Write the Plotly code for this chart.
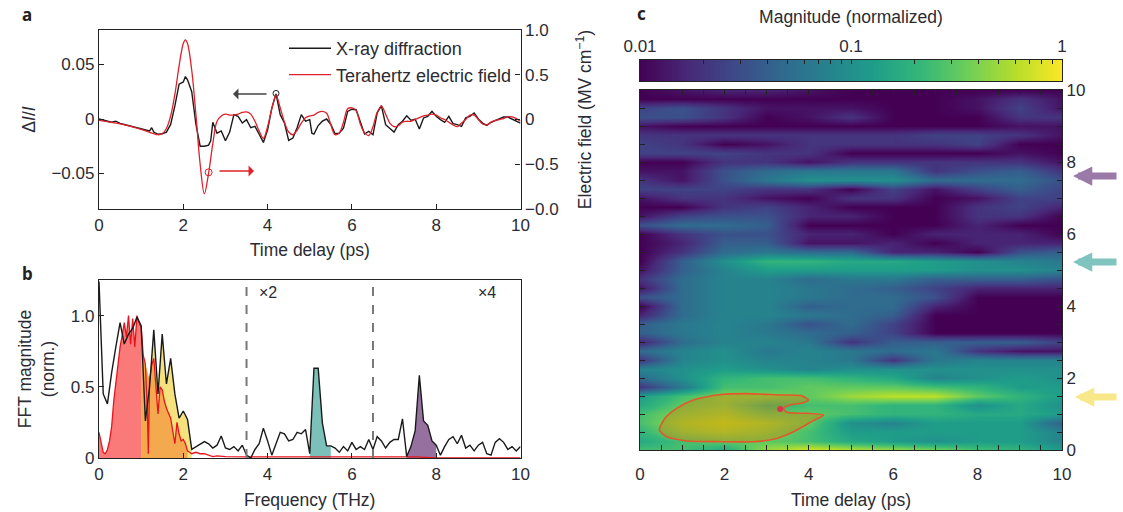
import numpy as np
import plotly.graph_objects as go

W, H = 1123, 512
FONT = "Liberation Sans"
TXT = "#2b2b33"
FS = 17
FT = 17.5

# ---------- panel a ----------
xrd_t = [0,.1,.2,.3,.4,.5,.6,.7,.8,.9,1,1.1,1.2,1.25,1.3,1.4,1.5,1.6,1.7,1.8,1.9,2,2.05,2.1,2.2,2.3,2.4,2.5,2.6,2.65,2.7,2.8,2.9,3,3.1,3.2,3.3,3.4,3.5,3.6,3.7,3.8,3.9,4,4.1,4.2,4.3,4.4,4.5,4.6,4.7,4.8,4.9,5,5.05,5.1,5.2,5.3,5.4,5.5,5.6,5.7,5.8,5.9,6,6.1,6.2,6.3,6.4,6.5,6.6,6.7,6.8,6.9,7,7.1,7.2,7.3,7.4,7.5,7.6,7.7,7.8,7.9,8,8.1,8.2,8.3,8.4,8.5,8.6,8.7,8.8,8.9,9,9.1,9.2,9.3,9.4,9.5,9.6,9.7,9.8,9.9,10]
xrd_v = [0,-.001,-.002,-.003,-.002,-.004,-.005,-.006,-.007,-.008,-.009,-.0105,-.011,-.008,-.012,-.014,-.0135,-.012,-.005,.012,.032,.034,.039,.036,.025,-.005,-.025,-.025,-.024,-.02,-.003,-.013,-.011,-.02,-.012,.004,.0025,-.0037,-.0006,-.008,-.0068,-.014,-.0215,-.01,.01,.023,.004,-.0037,-.0196,-.0175,-.008,.004,-.002,-.0006,-.013,-.0138,-.006,-.002,0,-.005,-.0135,-.013,-.0085,.007,.009,.0085,-.002,-.0138,-.0113,-.0145,.0055,.0123,-.0052,-.0083,-.012,-.0052,-.002,.003,-.0012,0,-.0092,.001,.0025,.007,.0025,-.0006,-.003,.0025,-.0043,-.0052,-.0068,.001,.0025,.0055,0,-.0037,-.0058,-.003,-.0012,.0006,.0018,.0018,0,-.0012,-.0037]
field_t = [0,.5,1,1.4,1.5,1.6,1.7,1.8,1.9,2,2.05,2.1,2.2,2.3,2.4,2.5,2.6,2.7,2.8,2.9,3,3.1,3.2,3.3,3.4,3.5,3.6,3.7,3.8,3.9,4,4.1,4.2,4.3,4.4,4.5,4.6,4.7,4.8,4.9,5,5.1,5.2,5.3,5.4,5.5,5.6,5.7,5.8,5.9,6,6.1,6.2,6.3,6.4,6.5,6.6,6.7,6.8,6.9,7,7.1,7.2,7.3,7.4,7.5,7.6,7.7,7.8,7.9,8,8.1,8.2,8.3,8.4,8.5,8.6,8.7,8.8,8.9,9,9.1,9.2,9.3,9.4,9.5,9.6,9.7,9.8,9.9,10]
field_v = [-.01,-.05,-.11,-.17,-.16,-.1,.04,.28,.6,.85,.89,.85,.55,.05,-.5,-.83,-.6,-.27,-.02,.04,.06,.05,.05,.06,.08,.085,.06,-.02,-.13,-.21,-.08,.12,.27,.13,-.03,-.14,-.17,-.12,-.04,.02,.04,.05,.08,.09,.07,-.06,-.17,-.15,-.03,.12,.13,.1,-.05,-.15,-.18,-.08,.08,.15,.06,-.04,-.08,-.07,-.03,-.02,-.02,0,.02,.04,.05,.06,.05,.02,0,-.03,-.06,-.08,-.04,0,.05,.05,0,-.05,-.06,-.03,-.01,0,.01,.03,.03,.01,-.02]
mark_black = (4.2, .0235)
mark_red = (2.6, -.59)

# ---------- panel b ----------
fft_f = [0,.05,.1,.2,.3,.4,.5,.6,.7,.8,.9,1,1.1,1.2,1.3,1.4,1.5,1.6,1.7,1.8,1.9,2,2.1,2.2,2.3,2.4,2.5,2.6,2.7,2.8,2.9,3,3.1,3.2,3.3,3.4,3.5,3.6,3.7,3.8,3.9,4,4.1,4.2,4.3,4.4,4.5,4.6,4.7,4.8,4.9,5,5.1,5.2,5.3,5.4,5.5,5.6,5.7,5.8,5.9,6,6.1,6.2,6.3,6.4,6.5,6.6,6.7,6.8,6.9,7,7.1,7.2,7.3,7.4,7.5,7.6,7.7,7.8,7.9,8,8.1,8.2,8.3,8.4,8.5,8.6,8.7,8.8,8.9,9,9.1,9.2,9.3,9.4,9.5,9.6,9.7,9.8,9.9,10]
fft_xrd = [1.24,.9,.45,.38,.6,.78,.95,.8,.87,.91,.99,.93,.26,.5,.9,.45,.87,.52,.7,.45,.28,.33,.27,.06,.08,.1,.115,.1,.07,.09,.155,.07,.06,.08,.05,.09,.02,0,.06,.1,.21,.12,.02,.1,.18,.17,.12,.13,.18,.17,.2,.03,.63,.63,.245,.085,.085,.07,.04,.08,.05,.11,.06,.08,.06,.13,.06,.15,.12,.07,.11,.13,.13,.275,.01,.08,.19,.58,.26,.23,.12,.09,.02,.08,.13,.15,.1,.16,.07,.09,.05,.09,.11,.03,.02,.11,.135,.11,.06,.08,.05,.08]
fft_field_f = [0,.05,.1,.15,.2,.25,.3,.35,.4,.45,.5,.55,.6,.65,.7,.75,.8,.85,.9,.95,1,1.05,1.1,1.15,1.17,1.2,1.25,1.3,1.35,1.4,1.45,1.5,1.55,1.6,1.7,1.75,1.8,1.85,1.9,1.95,2,2.05,2.1,2.2,2.3,2.4,2.5,2.6,2.7,2.8,3,3.5,4,5,6,7,7.5,8,9,10]
fft_field = [.18,.12,.04,.03,.06,.12,.22,.4,.52,.68,.78,.86,.95,.85,1,.8,.98,.78,1,.95,.92,.72,.66,.3,.03,.55,.65,.7,.5,.31,.5,.48,.4,.35,.28,.2,.1,.25,.17,.12,.13,.1,.05,.03,.04,.03,.03,.02,.01,.015,.01,.008,.008,.008,.008,.008,.008,0,0,0]
fill_skip = [1.15, 1.17]
band_red = (0, 1.0)
band_orange = (1.0, 2.15)
band_yellow = (1.0, 2.2)
band_teal = (5.0, 5.5)
band_purple = (7.3, 8.0)
divider_f = [3.5, 6.5]

# ---------- panel c: log10 magnitude, tenths above 0.01 ----------
map_t = [0,1,2,3,4,5,6,7,8,9,10]
map_f = [0,.25,.5,.75,1,1.25,1.5,1.75,2,2.25,2.5,2.75,3,3.25,3.5,3.75,4,4.25,4.5,4.75,5,5.25,5.5,5.75,6,6.25,6.5,6.75,7,7.25,7.5,7.75,8,8.25,8.5,8.75,9,9.25,9.5,9.75,10]
map_levels = [
 [14,14,12,17,19,18,17,16,14,13,11],
 [12,14,15,15,14,12,11,10,11,11,9],
 [13,16,17,16,14,11,11,11,11,11,9],
 [14,17,18,17,15,10,9,11,11,11,6],
 [14,16,17,15,15,14,13,13,12,12,11],
 [12,15,16,13,14,14,13,13,10,12,10],
 [11,14,16,16,15,17,18,18,15,13,11],
 [3,8,14,14,15,15,15,14,13,11,11],
 [7,10,13,14,14,13,12,9,10,11,10],
 [9,10,11,10,9,10,10,10,10,10,10],
 [3,9,10,9,9,8,3,8,9,9,9],
 [7,9,10,8,9,8,7,8,3,1,1],
 [2,7,9,9,8,3,6,6,6,6,4],
 [6,8,9,8,7,6,4,0,0,0,0],
 [6,8,9,8,5,7,4,0,0,0,0],
 [2,7,9,9,8,7,6,0,0,0,0],
 [0,7,9,9,6,7,7,2,0,0,0],
 [5,7,9,9,8,7,7,5,0,0,0],
 [1,7,9,9,8,7,6,4,2,2,2],
 [3,7,9,9,7,8,8,6,6,6,5],
 [1,6,9,11,11,11,11,11,10,10,9],
 [0,6,10,13,13,12,12,11,10,9,8],
 [0,3,7,8,7,7,2,2,0,5,6],
 [0,2,6,6,1,1,2,0,2,2,2],
 [0,3,5,5,2,2,0,2,2,2,0],
 [5,7,7,6,0,0,0,0,2,0,0],
 [1,4,5,5,2,2,0,0,3,3,0],
 [0,0,3,4,2,0,0,0,3,4,2],
 [1,3,3,1,0,3,3,0,1,4,4],
 [4,4,4,3,3,0,4,1,4,6,4],
 [3,1,5,8,10,10,10,7,7,7,5],
 [1,1,5,7,8,8,8,3,5,6,3],
 [0,0,3,3,1,3,3,3,3,3,1],
 [4,4,4,3,3,0,0,0,0,1,0],
 [4,3,0,1,3,3,3,3,4,0,0],
 [3,3,3,3,3,3,3,4,4,3,1],
 [1,0,0,0,0,0,0,0,0,1,1],
 [5,5,3,0,1,3,0,0,0,3,3],
 [4,5,3,1,1,1,0,0,1,4,1],
 [0,0,0,0,0,0,0,0,1,3,1],
 [0,1,2,2,1,0,0,0,0,0,0],
]
region_t = [.46,.59,.87,1.26,1.82,2.53,3.32,3.83,3.99,3.87,3.56,3.40,3.48,3.95,4.35,4.11,3.64,3.16,2.69,1.90,1.11,.63,.46]
region_f = [.556,.88,1.157,1.389,1.528,1.565,1.528,1.51,1.389,1.315,1.25,1.157,1.046,1.019,.972,.815,.509,.296,.231,.231,.25,.37,.556]
region_spot = (3.32, 1.139)
cbar_mags = [.01,.02,.03,.04,.05,.06,.07,.08,.09,.1,.2,.3,.4,.5,.6,.7,.8,.9,1]
cbar_labels = {.01:"0.01", .1:"0.1", 1:"1"}

# ---------- helpers ----------
def dom_x(a, b): return [a / W, b / W]
def dom_y(top, bottom): return [1 - bottom / H, 1 - top / H]
def px(x, y): return x / W, 1 - y / H

axis = dict(showline=True, mirror=True, linecolor="#222", linewidth=1.3, ticks="inside",
            ticklen=5, tickcolor="#222", tickwidth=1.2, zeroline=False, showgrid=False,
            tickfont=dict(family=FONT, size=FS, color=TXT),
            title_font=dict(family=FONT, size=FT, color=TXT))

def band(xs, ys, lo, hi, skip=()):
    xs, ys = np.asarray(xs), np.asarray(ys)
    keep = (xs >= lo) & (xs <= hi) & ~np.isin(xs, list(skip))
    return xs[keep], ys[keep]

fig = go.Figure()

# a
fig.add_trace(go.Scatter(x=field_t, y=field_v, yaxis="y2", xaxis="x", name="Terahertz electric field",
                         legendrank=2, mode="lines", line=dict(color="#e0202a", width=1.3, shape="spline")))
fig.add_trace(go.Scatter(x=xrd_t, y=xrd_v, xaxis="x", yaxis="y", name="X-ray diffraction",
                         legendrank=1, mode="lines", line=dict(color="#1a1a1a", width=1.4)))
fig.add_trace(go.Scatter(x=[mark_black[0]], y=[mark_black[1]], xaxis="x", yaxis="y", mode="markers", showlegend=False,
                         marker=dict(size=6, color="rgba(0,0,0,0)", line=dict(color="#222", width=1))))
fig.add_trace(go.Scatter(x=[mark_red[0]], y=[mark_red[1]], xaxis="x", yaxis="y2", mode="markers", showlegend=False,
                         marker=dict(size=7, color="rgba(0,0,0,0)", line=dict(color="#e0202a", width=1))))

# b fills
for xs, ys, rng, col, skip in [(fft_f, fft_xrd, band_yellow, "#f5e27c", ()),
                               (fft_field_f, fft_field, band_red, "#f97a78", ()),
                               (fft_field_f, fft_field, band_orange, "#f4a94e", fill_skip),
                               (fft_f, fft_xrd, band_teal, "#7cc0ba", ()),
                               (fft_f, fft_xrd, band_purple, "#96709f", ())]:
    bx, by = band(xs, ys, *rng, skip)
    fig.add_trace(go.Scatter(x=bx, y=by, xaxis="x2", yaxis="y3", mode="lines", fill="tozeroy", fillcolor=col,
                             line=dict(width=0, color=col), showlegend=False))
fig.add_trace(go.Scatter(x=fft_field_f, y=fft_field, xaxis="x2", yaxis="y3", mode="lines", showlegend=False,
                         line=dict(color="#e8141c", width=1.3)))
fig.add_trace(go.Scatter(x=fft_f, y=fft_xrd, xaxis="x2", yaxis="y3", mode="lines", showlegend=False,
                         line=dict(color="#1a1a1a", width=1.4)))
for d in divider_f:
    fig.add_shape(type="line", x0=d, x1=d, y0=0, y1=1.25, xref="x2", yref="y3",
                  line=dict(color="#777", width=2, dash="dash"))

# c
z = np.array(map_levels) / 10 - 2
fig.add_trace(go.Heatmap(x=map_t, y=map_f, z=z, xaxis="x3", yaxis="y4", zmin=-2, zmax=0, zsmooth="best",
                         colorscale="Viridis", hoverinfo="skip", showscale=False))
fig.add_trace(go.Scatter(x=region_t, y=region_f, xaxis="x3", yaxis="y4", mode="lines", fill="toself",
                         fillcolor="rgba(205,130,10,0.42)", showlegend=False,
                         line=dict(color="#e2582a", width=1.6, shape="spline", smoothing=0.6)))
fig.add_trace(go.Scatter(x=[region_spot[0]], y=[region_spot[1]], xaxis="x3", yaxis="y4", mode="markers", showlegend=False,
                         marker=dict(size=6, color="#d8344a")))

# colour key: a scale ramp on its own axis so its ticks sit on top and point inward
cbar_vals = [float(np.log10(m)) for m in cbar_mags]
ramp = np.linspace(-2, 0, 256)
fig.add_trace(go.Heatmap(x=ramp, y=[0], z=[ramp], xaxis="x4", yaxis="y5", zmin=-2, zmax=0,
                         colorscale="Viridis", hoverinfo="skip", showscale=False))

ann = []
def text(xp, yp, s, size=FS, bold=False, family=FONT, color=TXT):
    x, y = px(xp, yp)
    ann.append(dict(x=x, y=y, xref="paper", yref="paper", text=f"<b>{s}</b>" if bold else s, showarrow=False,
                    font=dict(family=family, size=size, color=color), xanchor="center", yanchor="middle"))
text(27, 14, "a", 17, True, "Noto Sans", "#222")
text(27, 273, "b", 17, True, "Noto Sans", "#222")
text(641, 13, "c", 17, True, "Noto Sans", "#222")
text(268, 292, "×2", 16)
text(487, 292, "×4", 16)

def arrow(x0, y0, x1, y1, color, width, head=2, size=1.0):
    xa, ya = px(x1, y1)
    ann.append(dict(x=xa, y=ya, xref="paper", yref="paper", ax=x0 - x1, ay=y0 - y1, text="", showarrow=True,
                    arrowhead=head, arrowsize=size, arrowwidth=width, arrowcolor=color, standoff=0, startstandoff=0))
arrow(268, 94, 233, 94, "#444", 1.3, 1, 1.4)
arrow(218, 171, 254, 171, "#e0202a", 1.3, 1, 1.4)
arrow(1118, 397, 1075, 397, "#f8e88a", 7, 2, 0.55)
arrow(1118, 262, 1073, 262, "#80c4c0", 7, 2, 0.55)
arrow(1118, 176, 1073, 176, "#9a7aa8", 7, 2, 0.55)

ticks2 = dict(tickmode="array", tickvals=[0, 2, 4, 6, 8, 10], ticktext=["0", "2", "4", "6", "8", "10"])
minor = dict(dtick=0.5, tick0=0, ticks="inside", ticklen=5, tickcolor="#222", tickwidth=1, showgrid=False)
axis_c = dict(axis, mirror="ticks")

fig.update_layout(
    width=W, height=H, autosize=False, margin=dict(l=0, r=0, t=0, b=0, autoexpand=False),
    paper_bgcolor="white", plot_bgcolor="white", annotations=ann,
    showlegend=True,
    legend=dict(x=284 / W, y=1 - 30 / H, xanchor="left", yanchor="top", bgcolor="rgba(0,0,0,0)", itemwidth=42,
                tracegroupgap=0, font=dict(family=FONT, size=18, color=TXT)),
    xaxis=dict(axis, domain=dom_x(99, 520.5), range=[0, 10], anchor="y", title=dict(text="Time delay (ps)", standoff=10), **ticks2),
    yaxis=dict(axis, domain=dom_y(30, 209), range=[-.0826, .0817], anchor="x", tickmode="array",
               tickvals=[-.05, 0, .05], ticktext=["−0.05", "0", "0.05"],
               title=dict(text="Δ<i>I</i>/<i>I</i>", standoff=11)),
    yaxis2=dict(axis, domain=dom_y(30, 209), range=[-1, 1], anchor="x", overlaying="y", side="right", tickmode="array",
                tickvals=[-1, -.5, 0, .5, 1], ticktext=["−0.0", "−0.5", "0", "0.5", "1.0"],
                title=dict(text="Electric field (MV cm<sup>−1</sup>)", standoff=21)),
    xaxis2=dict(axis, domain=dom_x(99, 520.5), range=[0, 10], anchor="y3", title=dict(text="Frequency (THz)", standoff=11), **ticks2),
    yaxis3=dict(axis, domain=dom_y(280, 458), range=[0, 1.25], anchor="x2", tickmode="array",
                tickvals=[0, .5, 1], ticktext=["0", "0.5", "1.0"],
                title=dict(text="FFT magnitude<br>(norm.)", standoff=11)),
    xaxis3=dict(axis_c, domain=dom_x(640, 1062), range=[0, 10], anchor="y4", minor=minor, ticklabelstandoff=8,
                title=dict(text="Time delay (ps)", standoff=11), **ticks2),
    yaxis4=dict(axis_c, domain=dom_y(90, 450), range=[0, 10], anchor="x3", side="right", minor=minor, **ticks2),
    xaxis4=dict(axis, domain=dom_x(640, 1062), range=[-2, 0], anchor="y5", side="top", ticklen=4,
                tickmode="array", tickvals=cbar_vals, ticktext=[cbar_labels.get(m, "") for m in cbar_mags],
                title=dict(text="Magnitude (normalized)", standoff=8)),
    yaxis5=dict(domain=dom_y(60, 81), range=[-.5, .5], anchor="x4", showticklabels=False, ticks="",
                showline=True, mirror=True, linecolor="#222", linewidth=1.3, zeroline=False, showgrid=False),
)

fig.write_html("out.html", config={"displayModeBar": False}, post_script="document.body.style.margin='0';")
